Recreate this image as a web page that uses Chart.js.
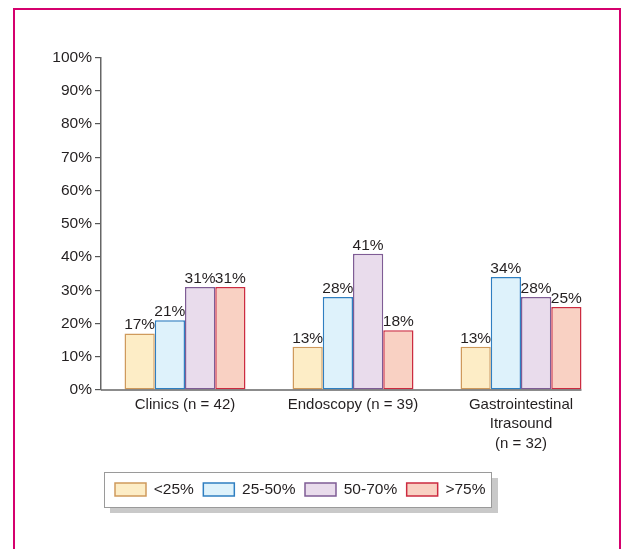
<!DOCTYPE html>
<html>
<head>
<meta charset="utf-8">
<script src="https://cdn.jsdelivr.net/npm/chart.js@4.4.1/dist/chart.umd.min.js"></script>
<style>
html,body{margin:0;padding:0;background:#fff;}
#wrap{position:relative;width:622px;height:549px;}
canvas{display:block;}
</style>
</head>
<body>
<div id="wrap"><canvas id="c" width="622" height="549"></canvas></div>
<script>
// ---- Data ----
const categories = [
  ['Clinics (n = 42)'],
  ['Endoscopy (n = 39)'],
  ['Gastrointestinal', 'Itrasound', '(n = 32)']
];
const seriesNames = ['<25%', '25-50%', '50-70%', '>75%'];
const under25 = [17, 13, 13];
const from25to50 = [21, 28, 34];
const from50to70 = [31, 41, 28];
const over75 = [31, 18, 25];
const yTickLabels = ['0%', '10%', '20%', '30%', '40%', '50%', '60%', '70%', '80%', '90%', '100%'];

// ---- Styles ----
const fills = ['#fdedc6', '#def2fb', '#e9dcec', '#f9d1c3'];
const borders = ['#cf9a5c', '#2f7fc1', '#7f5c95', '#cc2b40'];
const textColor = '#231f20';
const FONT = "'Liberation Sans', Arial, sans-serif";
Chart.defaults.font.family = FONT;
Chart.defaults.color = textColor;

const seriesValues = [under25, from25to50, from50to70, over75];

const decor = {
  id: 'decor',
  afterLayout(chart) {
    const lg = chart.legend;
    if (lg) {
      lg.left = 105.5; lg.right = 610;
      lg.top = 472.25; lg.bottom = 508;
      lg.width = lg.right - lg.left; lg.height = lg.bottom - lg.top;
    }
  },
  beforeDraw(chart) {
    const ctx = chart.ctx;
    ctx.save();
    // frame
    ctx.strokeStyle = '#d5006d';
    ctx.lineWidth = 2;
    ctx.strokeRect(14, 9, 606, 560);
    // legend shadow + box
    ctx.fillStyle = '#c9c9c9';
    ctx.fillRect(110, 478, 388, 35);
    ctx.fillStyle = '#ffffff';
    ctx.fillRect(104, 472, 388, 36);
    ctx.strokeStyle = '#9a9a9a';
    ctx.lineWidth = 1;
    ctx.strokeRect(104.5, 472.5, 387, 35);
    ctx.restore();
  },
  afterDatasetsDraw(chart) {
    const ctx = chart.ctx;
    const area = chart.chartArea;
    ctx.save();
    // x axis line to right edge of last bar
    const lastMeta = chart.getDatasetMeta(chart.data.datasets.length - 1);
    const lastBar = lastMeta.data[lastMeta.data.length - 1];
    const xr = lastBar.x + lastBar.width / 2;
    ctx.strokeStyle = '#666';
    ctx.lineWidth = 1.5;
    ctx.beginPath();
    ctx.moveTo(area.left, area.bottom);
    ctx.lineTo(xr, area.bottom);
    ctx.stroke();
    // value labels
    ctx.fillStyle = textColor;
    ctx.font = "15.5px " + FONT;
    ctx.textAlign = 'center';
    ctx.textBaseline = 'alphabetic';
    chart.data.datasets.forEach((ds, i) => {
      const meta = chart.getDatasetMeta(i);
      meta.data.forEach((bar, j) => {
        ctx.fillText(ds.data[j] + '%', bar.x, bar.y - 4);
      });
    });
    ctx.restore();
  }
};

new Chart(document.getElementById('c'), {
  type: 'bar',
  data: {
    labels: categories,
    datasets: seriesNames.map((name, i) => ({
      label: name,
      data: seriesValues[i],
      backgroundColor: fills[i],
      borderColor: borders[i],
      borderWidth: 1.5,
      borderSkipped: false,
      categoryPercentage: 0.72,
      barPercentage: 1.0
    }))
  },
  options: {
    responsive: false,
    devicePixelRatio: 1,
    animation: false,
    layout: { padding: { top: 57.5, right: 17, left: 0, bottom: 0 } },
    scales: {
      x: {
        grid: { display: false, drawTicks: false },
        border: { display: false },
        ticks: { color: textColor, font: { size: 15, lineHeight: 1.3 }, padding: 5, maxRotation: 0, autoSkip: false },
        afterFit: (s) => { s.height = 124; }
      },
      y: {
        min: 0, max: 100,
        ticks: { stepSize: 10, color: textColor, font: { size: 15.5 }, padding: 3,
                 callback: (v, i) => yTickLabels[i] },
        grid: { drawOnChartArea: false, drawTicks: true, tickLength: 6, color: '#555', lineWidth: 1.2 },
        border: { color: '#666', width: 1.5 },
        afterFit: (s) => { s.width = 101; }
      }
    },
    plugins: {
      tooltip: { enabled: false },
      legend: {
        position: 'bottom',
        align: 'start',
        labels: { boxWidth: 31, boxHeight: 13, color: textColor, font: { size: 15.5 }, padding: 9.5 }
      }
    }
  },
  plugins: [decor]
});
</script>
</body>
</html>
